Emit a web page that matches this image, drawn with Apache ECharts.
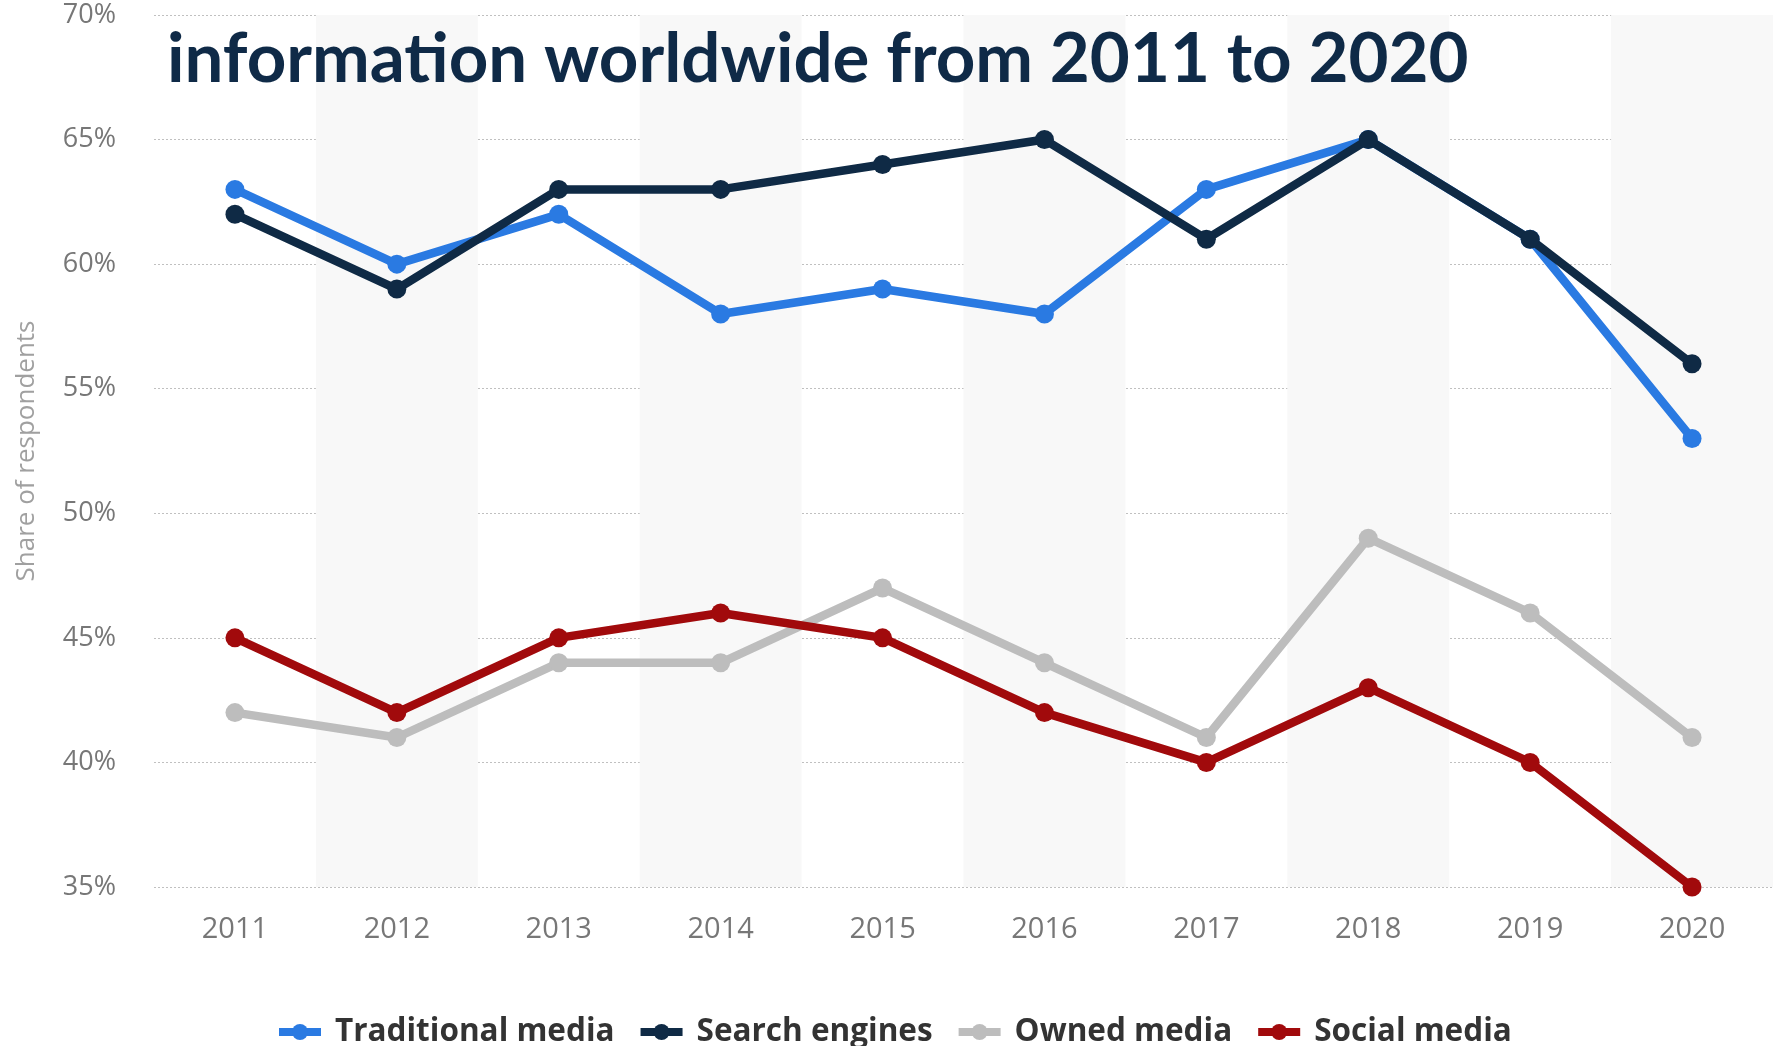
<!DOCTYPE html>
<html>
<head>
<meta charset="utf-8">
<script src="https://cdn.jsdelivr.net/npm/echarts@6/dist/echarts.min.js"></script>
<style>
html,body{margin:0;padding:0;background:#fff;}
#chart{width:1773px;height:1046px;}
</style>
</head>
<body>
<div id="chart"></div>
<script>
const years = ['2011','2012','2013','2014','2015','2016','2017','2018','2019','2020'];
const traditionalMedia = [63, 60, 62, 58, 59, 58, 63, 65, 61, 53];
const searchEngines = [62, 59, 63, 63, 64, 65, 61, 65, 61, 56];
const ownedMedia = [42, 41, 44, 44, 47, 44, 41, 49, 46, 41];
const socialMedia = [45, 42, 45, 46, 45, 42, 40, 43, 40, 35];
const seriesNames = ['Traditional media', 'Search engines', 'Owned media', 'Social media'];
const seriesColors = ['#2a7ae2', '#0f2a45', '#bdbdbd', '#a10a0c'];
const titleText = 'information worldwide from 2011 to 2020';
const yAxisName = 'Share of respondents';

const chart = echarts.init(document.getElementById('chart'));
const dataSets = [traditionalMedia, searchEngines, ownedMedia, socialMedia];
const option = {
  animation: false,
  backgroundColor: '#ffffff',
  title: {
    text: titleText,
    left: 162,
    top: 20,
    textStyle: {
      fontFamily: 'Lato',
      fontWeight: 'bold',
      fontSize: 69,
      color: '#0f2a47'
    },
    z: 10
  },
  legend: {
    data: seriesNames,
    left: 270,
    top: 1011,
    itemWidth: 42,
    itemHeight: 20,
    itemGap: 22,
    lineStyle: { width: 8 },
    textStyle: {
      fontFamily: 'Open Sans',
      fontWeight: 'bold',
      fontSize: 31.5,
      color: '#333333',
      padding: [0, 0, 0, 9]
    }
  },
  grid: {
    left: 154,
    right: -4,
    top: 15,
    bottom: 159,
    containLabel: false
  },
  xAxis: {
    type: 'category',
    data: years,
    boundaryGap: true,
    axisLine: { show: false },
    axisTick: { show: false },
    axisLabel: {
      margin: 28,
      fontFamily: 'Open Sans',
      fontSize: 29,
      color: '#777777'
    },
    splitArea: {
      show: true,
      areaStyle: { color: ['rgba(255,255,255,0)', '#f8f8f8'] }
    },
    splitLine: { show: false }
  },
  yAxis: {
    type: 'value',
    min: 35,
    max: 70,
    interval: 5,
    name: yAxisName,
    nameLocation: 'middle',
    nameGap: 114,
    nameTextStyle: {
      fontFamily: 'Open Sans',
      fontSize: 26,
      color: '#a0a0a0'
    },
    axisLine: { show: false },
    axisTick: { show: false },
    axisLabel: {
      margin: 38,
      fontFamily: 'Open Sans',
      fontSize: 27,
      color: '#777777',
      formatter: v => v + '%'
    },
    splitLine: {
      show: true,
      lineStyle: { type: [2, 2], color: '#c0c0c0', width: 1 }
    }
  },
  series: seriesNames.map((name, i) => ({
    name: name,
    type: 'line',
    data: dataSets[i],
    symbol: 'circle',
    symbolSize: 19,
    lineStyle: { width: 8.5, color: seriesColors[i] },
    itemStyle: { color: seriesColors[i] },
    z: 2 + i
  }))
};
chart.setOption(option);
</script>
</body>
</html>
